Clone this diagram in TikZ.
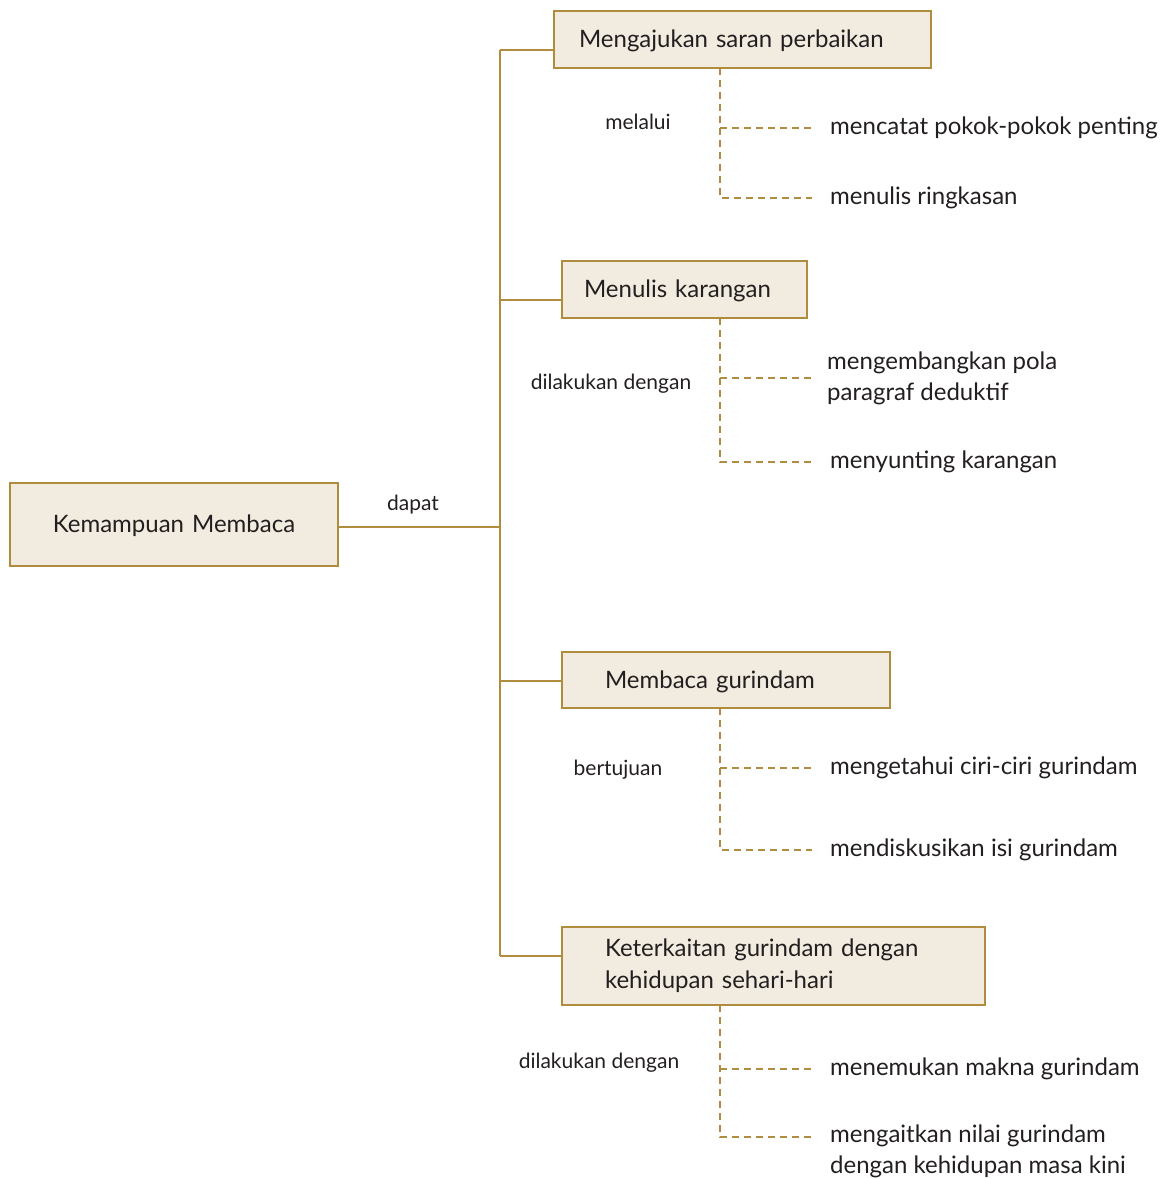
\documentclass[tikz,border=0pt]{standalone}
\usepackage{fontspec}
\setmainfont{Lato}
\usetikzlibrary{calc}
\definecolor{gold}{HTML}{B08D3E}
\definecolor{boxfill}{HTML}{F2ECE0}
\definecolor{ink}{HTML}{231F20}
\tikzset{
  ln/.style={draw=gold, line width=2.8pt},
  dsh/.style={draw=gold, line width=2.2pt, dash pattern=on 7pt off 5pt},
  bx/.style={draw=gold, fill=boxfill, line width=2.8pt, rectangle, outer sep=0pt,
    text=ink, font=\fontsize{24}{32}\selectfont, anchor=north west, align=left, inner ysep=0pt},
  onebx/.style={bx, text depth=1pt},
  item/.style={text=ink, font=\fontsize{24}{31}\selectfont, anchor=west, align=left, inner sep=0pt},
  lbl/.style={text=ink, font=\fontsize{21}{24}\selectfont, inner sep=0pt}
}
\begin{document}
\begin{tikzpicture}[x=1pt,y=-1pt]
\useasboundingbox (0,0) rectangle (1174,1179);

% root
\node[onebx, align=center, text width=300pt, inner xsep=14pt, minimum height=83pt] (root) at (10,483) {Kemampuan Membaca};

% main boxes
\node[onebx, text width=327pt, inner xsep=25pt, minimum height=57pt] (b1) at (554,11) {Mengajukan saran perbaikan};
\node[onebx, text width=201pt, inner xsep=22pt, minimum height=57pt] (b2) at (562,261) {Menulis karangan};
\node[onebx, text width=242pt, inner xsep=43pt, minimum height=56pt] (b3) at (562,652) {Membaca gurindam};
\node[bx, text width=337pt, inner xsep=43pt, minimum height=78pt] (b4) at (562,927) {Keterkaitan gurindam dengan\\kehidupan sehari-hari};

% trunk coordinates
\coordinate (t0) at (500,527);
\coordinate (t1) at (500,50);
\coordinate (t2) at (500,300);
\coordinate (t3) at (500,681);
\coordinate (t4) at (500,956);
\coordinate (dx) at (720,0);

\draw[ln] (t1) -- (t4);
\draw[ln] (root.east |- t0) -- (t0);
\draw[ln] (t1) -- (t1 -| b1.west);
\draw[ln] (t2) -- (t2 -| b2.west);
\draw[ln] (t3) -- (t3 -| b3.west);
\draw[ln] (t4) -- (t4 -| b4.west);

\node[lbl] (l0) at (413,505) {dapat};
\node[lbl] (l1) at (638,122) {melalui};
\node[lbl] (l2) at (611,384) {dilakukan dengan};
\node[lbl] (l3) at (618,770) {bertujuan};
\node[lbl] (l4) at (599,1063) {dilakukan dengan};

% items
\node[item] (i11) at (830,128) {mencatat pokok-pokok penting};
\node[item] (i12) at (830,198) {menulis ringkasan};
\node[item] (i21) at (827,378) {mengembangkan pola\\paragraf deduktif};
\node[item] (i22) at (830,462) {menyunting karangan};
\node[item] (i31) at (830,768) {mengetahui ciri-ciri gurindam};
\node[item] (i32) at (830,850) {mendiskusikan isi gurindam};
\node[item] (i41) at (830,1069) {menemukan makna gurindam};
\node[item, anchor=north west] (i42) at (830,1125) {mengaitkan nilai gurindam\\dengan kehidupan masa kini};

% dashed connectors
\draw[dsh] (b1.south -| dx) |- ([xshift=-18pt]i12.west);
\draw[dsh] (dx |- i11.west) -- ([xshift=-18pt]i11.west);
\draw[dsh] (b2.south -| dx) |- ([xshift=-18pt]i22.west);
\draw[dsh] (dx |- i21.west) -- ([xshift=-15pt]i21.west);
\draw[dsh] (b3.south -| dx) |- ([xshift=-18pt]i32.west);
\draw[dsh] (dx |- i31.west) -- ([xshift=-18pt]i31.west);
\draw[dsh] (b4.south -| dx) |- ([shift={(-18pt,-12pt)}]i42.north west);
\draw[dsh] (dx |- i41.west) -- ([xshift=-18pt]i41.west);
\end{tikzpicture}
\end{document}
